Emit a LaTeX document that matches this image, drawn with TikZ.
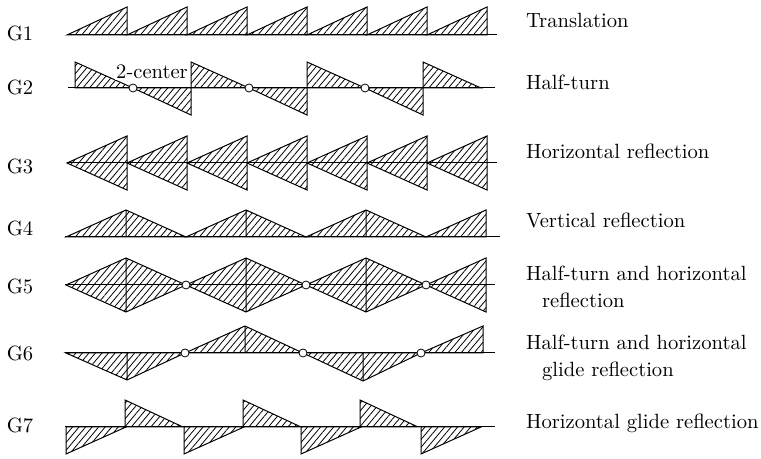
\documentclass[tikz,border=0pt]{standalone}
\usepackage{amsmath,amssymb}
\usepackage{tikz}
\usetikzlibrary{patterns.meta}

\tikzset{
  hatch/.style={draw,line width=0.5pt,pattern={Lines[angle=50,distance=2.5pt,line width=0.4pt]}},
  axis/.style={line width=0.5pt},
  twoctr/.style={circle,draw,fill=white,line width=0.4pt,inner sep=0pt,minimum size=4pt},
  grp/.style={font=\fontsize{10.3pt}{12pt}\selectfont},
  lbl/.style={anchor=west,font=\fontsize{10.3pt}{12pt}\selectfont,text height=1.6ex,text depth=0.3ex}
}

\begin{document}
\begin{tikzpicture}[x=0.5pt,y=-0.5pt]
    \useasboundingbox (0,0) rectangle (761,459);
    % G1
    \foreach \x in {67,127,...,427}
      \draw[hatch] (\x,35) -- (\x+60,7) -- (\x+60,35) -- cycle;
    \draw[axis] (67,35) -- (497,35);
    % G2
    \foreach \x in {75,191,307,423}
      \draw[hatch] (\x,62) -- (\x,88) -- (\x+58,88) -- cycle;
    \foreach \x in {75,191,307}
      \draw[hatch] (\x+58,88) -- (\x+116,88) -- (\x+116,115) -- cycle;
    \draw[axis] (68,88) -- (495,88);
    \foreach \x in {133,249,365}
      \node[twoctr] (c2\x) at (\x,88) {};
    \node[grp,fill=white,inner sep=0.5pt] (ctr) at (152,72) {2-center};
    % G3
    \foreach \x in {67,127,...,427}
      \draw[hatch] (\x,163) -- (\x+60,136) -- (\x+60,190) -- cycle;
    \draw[axis] (67,163) -- (497,163);
    % G4
    \foreach \x in {66,186,306}
      \draw[hatch] (\x,237) -- (\x+60,210) -- (\x+120,237) -- cycle (\x+60,210) -- (\x+60,237);
    \draw[hatch] (426,237) -- (486,210) -- (486,237) -- cycle;
    \draw[axis] (65,237) -- (500,237);
    % G5
    \foreach \x in {66,186,306}
      \draw[hatch] (\x,285) -- (\x+60,258) -- (\x+120,285) -- (\x+60,312) -- cycle (\x+60,258) -- (\x+60,312);
    \draw[hatch] (426,285) -- (486,258) -- (486,312) -- cycle;
    \draw[axis] (65,285) -- (495,285);
    \foreach \x in {186,306,426}
      \node[twoctr] (c5\x) at (\x,285) {};
    % G6
    \draw[hatch] (66,353) -- (127,380) -- (185,353) -- cycle (127,353) -- (127,380);
    \draw[hatch] (185,353) -- (245,326) -- (303,353) -- cycle (245,326) -- (245,353);
    \draw[hatch] (303,353) -- (363,381) -- (421,353) -- cycle (363,353) -- (363,381);
    \draw[hatch] (421,353) -- (483,326) -- (483,353) -- cycle;
    \draw[axis] (65,353) -- (495,353);
    \foreach \x in {185,303,421}
      \node[twoctr] (c6\x) at (\x,353) {};
    % G7
    \foreach \x in {66,184,301,421}
      \draw[hatch] (\x,427) -- (\x,454) -- (\x+60,427) -- cycle;
    \foreach \x in {125,243,360}
      \draw[hatch] (\x,400) -- (\x,427) -- (\x+58,427) -- cycle;
    \draw[axis] (65,427) -- (495,427);

    \node[grp] (g1) at (20,33) {G1};
    \node[grp] (g2) at (20,87) {G2};
    \node[grp] (g3) at (20,166) {G3};
    \node[grp] (g4) at (20,228) {G4};
    \node[grp] (g5) at (20,286) {G5};
    \node[grp] (g6) at (20,353) {G6};
    \node[grp] (g7) at (20,425) {G7};

    \node[lbl] (t1) at (519,22) {Translation};
    \node[lbl] (t2) at (519,84) {Half-turn};
    \node[lbl] (t3) at (519,153) {Horizontal reflection};
    \node[lbl] (t4) at (519,222) {Vertical reflection};
    \node[lbl] (t5a) at (519,275) {Half-turn and horizontal};
    \node[lbl] (t5b) at (535,302) {reflection};
    \node[lbl] (t6a) at (519,344) {Half-turn and horizontal};
    \node[lbl] (t6b) at (535,371) {glide reflection};
    \node[lbl] (t7) at (519,423) {Horizontal glide reflection};
 \end{tikzpicture}
\end{document}
